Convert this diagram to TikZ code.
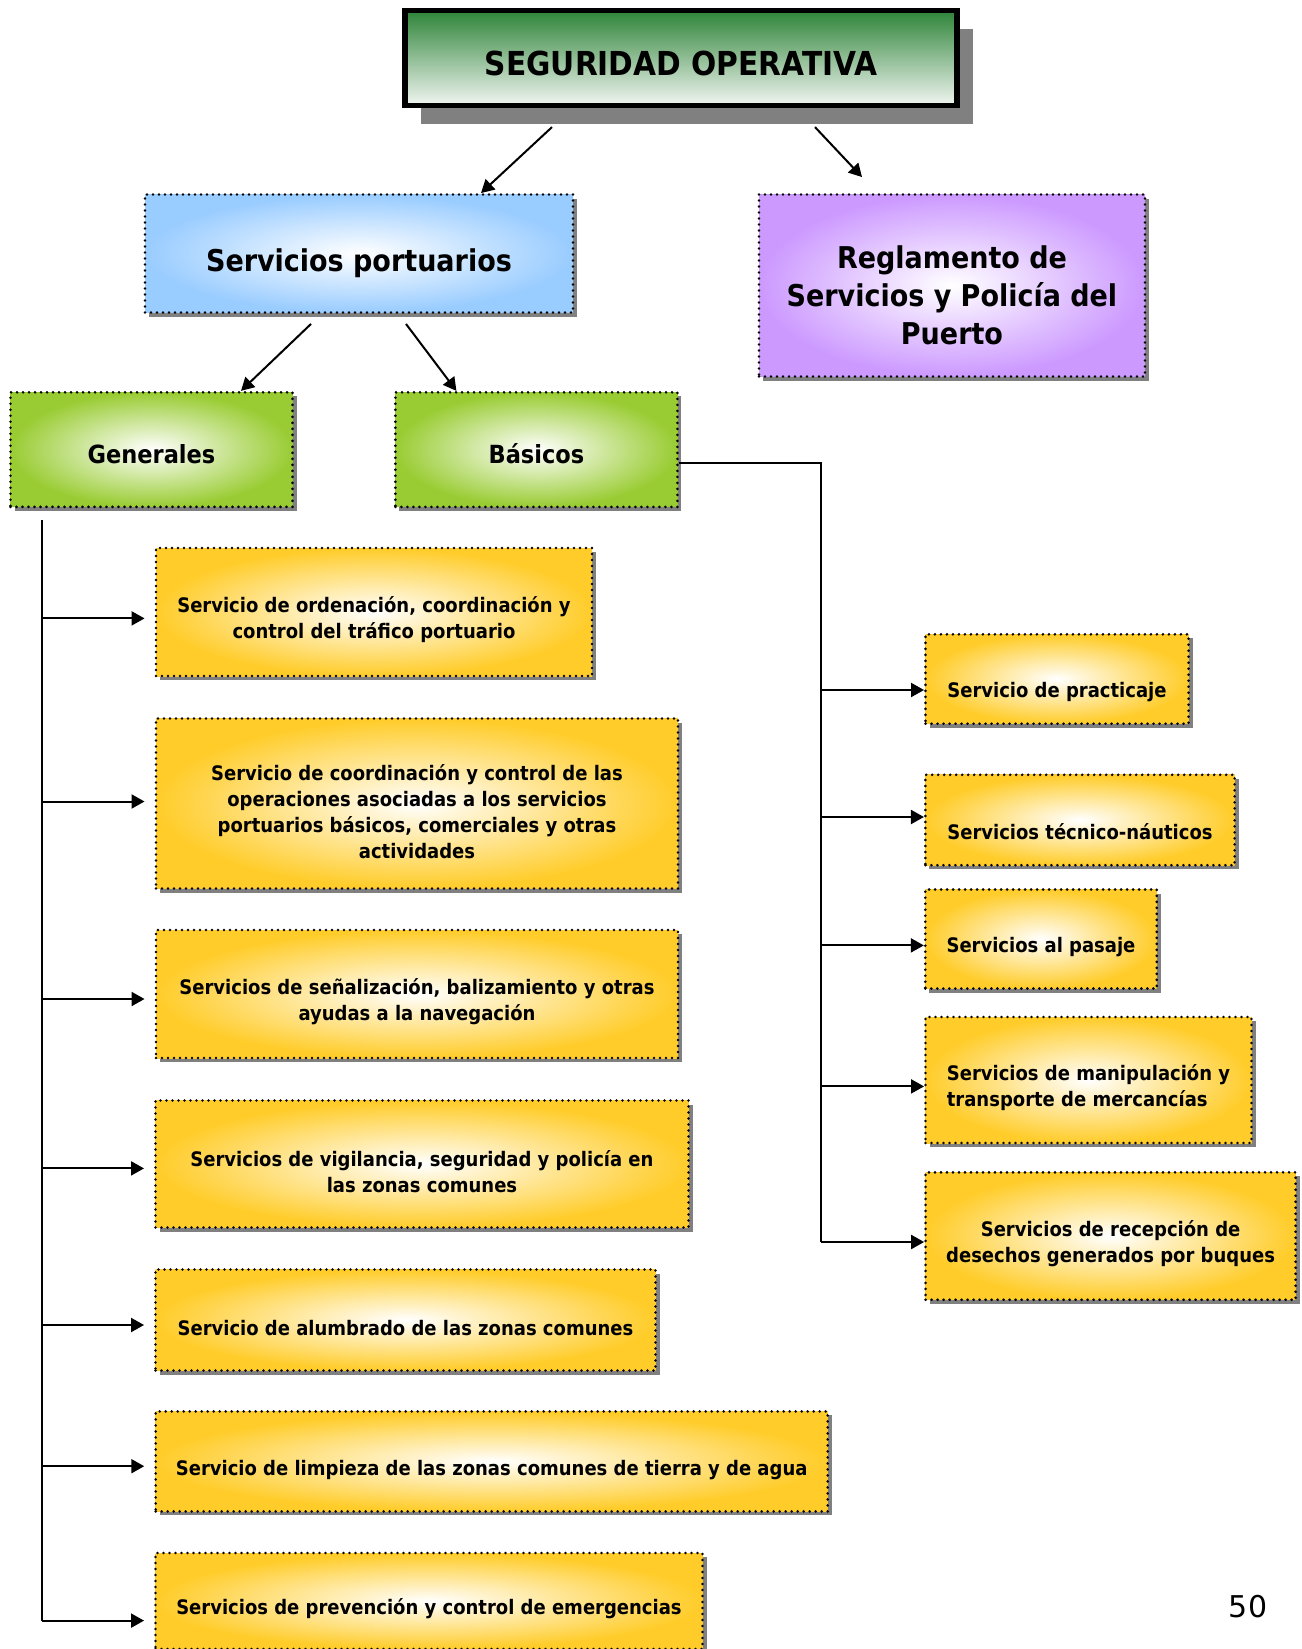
\documentclass[tikz,border=0pt]{standalone}
\usepackage{fontspec}
\setmainfont{DejaVu Sans Condensed}
\newfontfamily\pagefont{DejaVu Sans}
\usetikzlibrary{arrows.meta,shadows,shapes}

\definecolor{titlegreen}{RGB}{46,132,56}
\definecolor{titlewhite}{RGB}{242,246,242}
\definecolor{boxblue}{RGB}{153,204,255}
\definecolor{boxviolet}{RGB}{204,153,255}
\definecolor{boxgreen}{RGB}{153,204,51}
\definecolor{boxyellow}{RGB}{255,204,41}

\newcommand{\segfont}{\fontsize{16.5}{20}\selectfont\bfseries}
\newcommand{\bigboxfont}{\fontsize{15}{19.2}\selectfont\bfseries}
\newcommand{\groupfont}{\fontsize{12.5}{15}\selectfont\bfseries}
\newcommand{\servicefont}{\fontsize{10}{13}\selectfont\bfseries}
% struts that push the text a little below the middle of its box
\newcommand{\reglstrut}{\rule{0pt}{1.41em}}
\newcommand{\servstrut}{\rule{0pt}{1.58em}}

\tikzstyle{orientedarc}=[-{Triangle[length=6.5pt,width=7pt]},line width=1pt]
\tikzstyle{trunk}=[line width=1pt]
\tikzstyle{titlebox}=[draw,line width=2.6pt,top color=titlegreen,bottom color=titlewhite,drop shadow={shadow xshift=8pt,shadow yshift=-9pt,fill=gray,opacity=1},font=\segfont,execute at begin node={\rule{0pt}{1.1em}}]
\tikzstyle{dottedbox}=[draw,line width=1.45pt,dash pattern=on 0pt off 3pt,line cap=round,inner color=white,drop shadow={shadow xshift=2pt,shadow yshift=-2pt,fill=gray,opacity=1},align=center]
\tikzstyle{portbox}=[dottedbox,outer color=boxblue,font=\bigboxfont,execute at begin node={\reglstrut}]
\tikzstyle{reglbox}=[dottedbox,outer color=boxviolet,font=\bigboxfont]
\tikzstyle{groupbox}=[dottedbox,outer color=boxgreen,font=\groupfont,minimum width=141pt,minimum height=57.3pt,execute at begin node={\rule{0pt}{1.1em}}]
\tikzstyle{servicebox}=[dottedbox,outer color=boxyellow,font=\servicefont,execute at begin node={\servstrut}]

\begin{document}
\begin{tikzpicture}[x=0.5pt,y=-0.5pt]
\useasboundingbox (0,0) rectangle (1301,1649);

\node[titlebox,minimum width=276pt,minimum height=47.5pt] (Seg) at (681,58) {SEGURIDAD OPERATIVA};

\node[portbox,minimum width=214pt,minimum height=59pt] (Port) at (359,253.5) {Servicios portuarios};
\node[reglbox,minimum width=193pt,minimum height=91pt] (Regl) at (952,285.5) {\reglstrut Reglamento de \\ Servicios y Polic\'ia del \\ Puerto};

\node[groupbox] (Gen) at (151.5,449.6) {Generales};
\node[groupbox] (Bas) at (536.4,449.6) {B\'asicos};

\node[servicebox,minimum width=218pt,minimum height=64pt] (G1) at (374,612) {\servstrut Servicio de ordenaci\'on, coordinaci\'on y \\ control del tr\'afico portuario};
\node[servicebox,minimum width=261pt,minimum height=85pt] (G2) at (417,803.5) {\servstrut Servicio de coordinaci\'on y control de las \\ operaciones asociadas a los servicios \\ portuarios b\'asicos, comerciales y otras \\ actividades};
\node[servicebox,minimum width=261pt,minimum height=64pt] (G3) at (417,994) {\servstrut Servicios de se\~nalizaci\'on, balizamiento y otras \\ ayudas a la navegaci\'on};
\node[servicebox,minimum width=266.5pt,minimum height=63.5pt] (G4) at (422,1164) {\servstrut Servicios de vigilancia, seguridad y polic\'ia en \\ las zonas comunes};
\node[servicebox,minimum width=250pt,minimum height=50.5pt] (G5) at (405.5,1320) {Servicio de alumbrado de las zonas comunes};
\node[servicebox,minimum width=336pt,minimum height=50pt] (G6) at (491.7,1461.4) {Servicio de limpieza de las zonas comunes de tierra y de agua};
\node[servicebox,minimum width=273.5pt,minimum height=48pt] (G7) at (429,1601) {Servicios de prevenci\'on y control de emergencias};

\node[servicebox,minimum width=131.5pt,minimum height=44.7pt,execute at begin node={\rule{0pt}{2.1em}}] (B1) at (1057,679) {Servicio de practicaje};
\node[servicebox,minimum width=154.6pt,minimum height=45.2pt,execute at begin node={\rule{0pt}{2.0em}}] (B2) at (1080,820) {Servicios t\'ecnico-n\'auticos};
\node[servicebox,minimum width=115.7pt,minimum height=49.5pt] (B3) at (1041,939) {Servicios al pasaje};
\node[servicebox,align=left,minimum width=163pt,minimum height=63pt] (B4) at (1088.5,1080) {\servstrut Servicios de manipulaci\'on y \\ transporte de mercanc\'ias};
\node[servicebox,minimum width=185pt,minimum height=63.7pt] (B5) at (1110.6,1236) {\servstrut Servicios de recepci\'on de \\ desechos generados por buques};

\node[font=\pagefont\fontsize{15}{18}\selectfont] (Pag) at (1248,1607) {50};

\coordinate (GenTrunk) at (42,520);
\coordinate (BasTrunk) at (821,463);

\draw[orientedarc] ([xshift=-64.5pt,yshift=-9.5pt]Seg.south) -- ([xshift=61pt]Port.north);
\draw[orientedarc] ([xshift=67pt,yshift=-9.5pt]Seg.south) -- ([xshift=-45pt,yshift=8pt]Regl.north);

\draw[orientedarc] ([xshift=-24pt,yshift=-5pt]Port.south) -- ([xshift=44.75pt]Gen.north);
\draw[orientedarc] ([xshift=23.5pt,yshift=-5pt]Port.south) -- ([xshift=-40pt]Bas.north);

% generales
\draw[trunk] (GenTrunk) -- ([yshift=-9.8pt]GenTrunk |- G7.west);
\foreach \n/\dy in {1/-3.2,2/1,3/-2.5,4/-2.2,5/-2.5,6/-2.4,7/-9.8}
  \draw[orientedarc] ([yshift=\dy pt]GenTrunk |- G\n.west) -- ([xshift=-5pt,yshift=\dy pt]G\n.west);

% basicos
\draw[trunk] (Bas.east |- BasTrunk) -- (BasTrunk) -- ([yshift=-3pt]BasTrunk |- B5.west);
\foreach \n/\dy in {1/-5.5,2/1.5,3/-3.2,4/-3.2,5/-3}
  \draw[orientedarc] ([yshift=\dy pt]BasTrunk |- B\n.west) -- ([yshift=\dy pt]B\n.west);

\end{tikzpicture}
\end{document}
